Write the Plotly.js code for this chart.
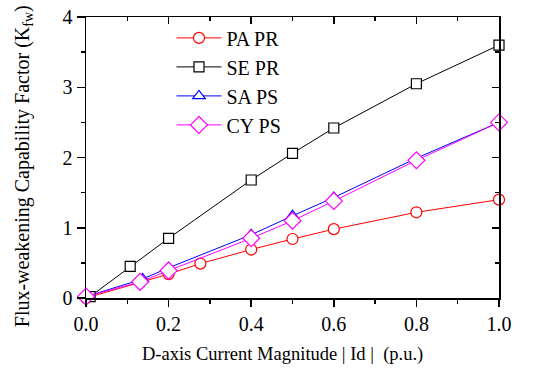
<!DOCTYPE html>
<html>
<head>
<meta charset="utf-8">
<script src="https://cdn.plot.ly/plotly-3.0.1.min.js"></script>
<style>html,body{margin:0;padding:0;background:#fff;}#chart{width:547px;height:370px;}</style>
</head>
<body>
<div id="chart"></div>
<script>
var paX = [0, 0.2, 0.277, 0.4, 0.5, 0.6, 0.8, 1.0];
var paY = [0.0, 0.34, 0.49, 0.69, 0.84, 0.98, 1.22, 1.40];
var seX = [0.01, 0.107, 0.2, 0.4, 0.5, 0.6, 0.8, 1.0];
var seY = [0.02, 0.45, 0.85, 1.68, 2.06, 2.42, 3.05, 3.60];
var saX = [0, 0.137, 0.2, 0.4, 0.5, 0.6, 0.8, 1.0];
var saY = [0.02, 0.27, 0.43, 0.90, 1.17, 1.43, 1.99, 2.50];
var cyX = [0, 0.131, 0.2, 0.4, 0.5, 0.6, 0.8, 1.0];
var cyY = [0.02, 0.23, 0.39, 0.85, 1.10, 1.38, 1.96, 2.50];
var names = ["PA PR", "SE PR", "SA PS", "CY PS"];
var xTickVals = [0, 0.2, 0.4, 0.6, 0.8, 1.0];
var xTickText = ["0.0", "0.2", "0.4", "0.6", "0.8", "1.0"];
var yTickVals = [0, 1, 2, 3, 4];
var xTitle = 'D-axis Current Magnitude | Id | &nbsp;(p.u.)';
var yTitle = 'Flux-weakening Capability Factor (K<sub>fw</sub>)';

var font = "Liberation Serif";
function tr(x, y, name, color, sym, size) {
  return {x: x, y: y, name: name, type: 'scatter', mode: 'lines+markers',
    line: {color: color, width: 1},
    marker: {symbol: sym, size: size, color: '#ffffff', line: {color: color, width: 1.2}},
    cliponaxis: false};
}
var data = [
  tr(paX, paY, names[0], '#ff0000', 'circle', 11),
  tr(seX, seY, names[1], '#000000', 'square', 10),
  tr(saX, saY, names[2], '#0000ff', 'triangle-up', 11),
  tr(cyX, cyY, names[3], '#ff00ff', 'diamond', 13)
];
var layout = {
  width: 547, height: 370,
  margin: {l: 86, r: 48, t: 17, b: 72},
  paper_bgcolor: '#fff', plot_bgcolor: '#fff',
  font: {family: font, color: '#000', size: 20},
  showlegend: true,
  legend: {x: 0.207, y: 0.995, xanchor: 'left', yanchor: 'top', bgcolor: 'rgba(0,0,0,0)',
    font: {family: font, size: 20, color: '#000'}, tracegroupgap: 0, itemwidth: 45},
  xaxis: {range: [0, 1.0], tickvals: xTickVals, ticktext: xTickText, ticks: 'outside', ticklen: 7,
    tickwidth: 1.5, tickcolor: '#000', showline: true, linecolor: '#000', linewidth: 1.5,
    showgrid: false, zeroline: false, mirror: true,
    minor: {dtick: 0.1, ticks: 'outside', ticklen: 4, tickwidth: 1.5, tickcolor: '#000', showgrid: false},
    tickfont: {family: font, size: 20, color: '#000'}},
  yaxis: {range: [0, 4], tickvals: yTickVals, ticks: 'outside', ticklen: 8,
    tickwidth: 1.5, tickcolor: '#000', showline: true, linecolor: '#000', linewidth: 1.5,
    showgrid: false, zeroline: false, mirror: true,
    minor: {dtick: 0.5, ticks: 'outside', ticklen: 4, tickwidth: 1.5, tickcolor: '#000', showgrid: false},
    tickfont: {family: font, size: 20, color: '#000'}},
  xaxis2: {overlaying: 'x', side: 'top', range: [0, 1.0], tickvals: xTickVals, ticks: 'inside', ticklen: 7,
    tickwidth: 1.5, tickcolor: '#000', showticklabels: false, showgrid: false, zeroline: false, showline: false,
    minor: {dtick: 0.1, ticks: 'inside', ticklen: 4, tickwidth: 1.5, tickcolor: '#000', showgrid: false}},
  yaxis2: {overlaying: 'y', side: 'right', range: [0, 4], tickvals: yTickVals, ticks: 'inside', ticklen: 7,
    tickwidth: 1.5, tickcolor: '#000', showticklabels: false, showgrid: false, zeroline: false, showline: false,
    minor: {dtick: 0.5, ticks: 'inside', ticklen: 4, tickwidth: 1.5, tickcolor: '#000', showgrid: false}},
  annotations: [
    {text: xTitle, xref: 'paper', yref: 'paper', x: 0.476, y: -0.2, xanchor: 'center', yanchor: 'middle',
     showarrow: false, font: {family: font, size: 18.5, color: '#000'}},
    {text: yTitle, xref: 'paper', yref: 'paper', x: -0.1525, y: 0.469, xanchor: 'center', yanchor: 'middle',
     textangle: -90, showarrow: false, font: {family: font, size: 20, color: '#000'}}
  ]
};
data.push({x: [0], y: [0], xaxis: 'x2', yaxis: 'y2', mode: 'markers', marker: {opacity: 0}, showlegend: false, hoverinfo: 'skip'});
Plotly.newPlot('chart', data, layout, {displayModeBar: false, staticPlot: true});
</script>
</body>
</html>
